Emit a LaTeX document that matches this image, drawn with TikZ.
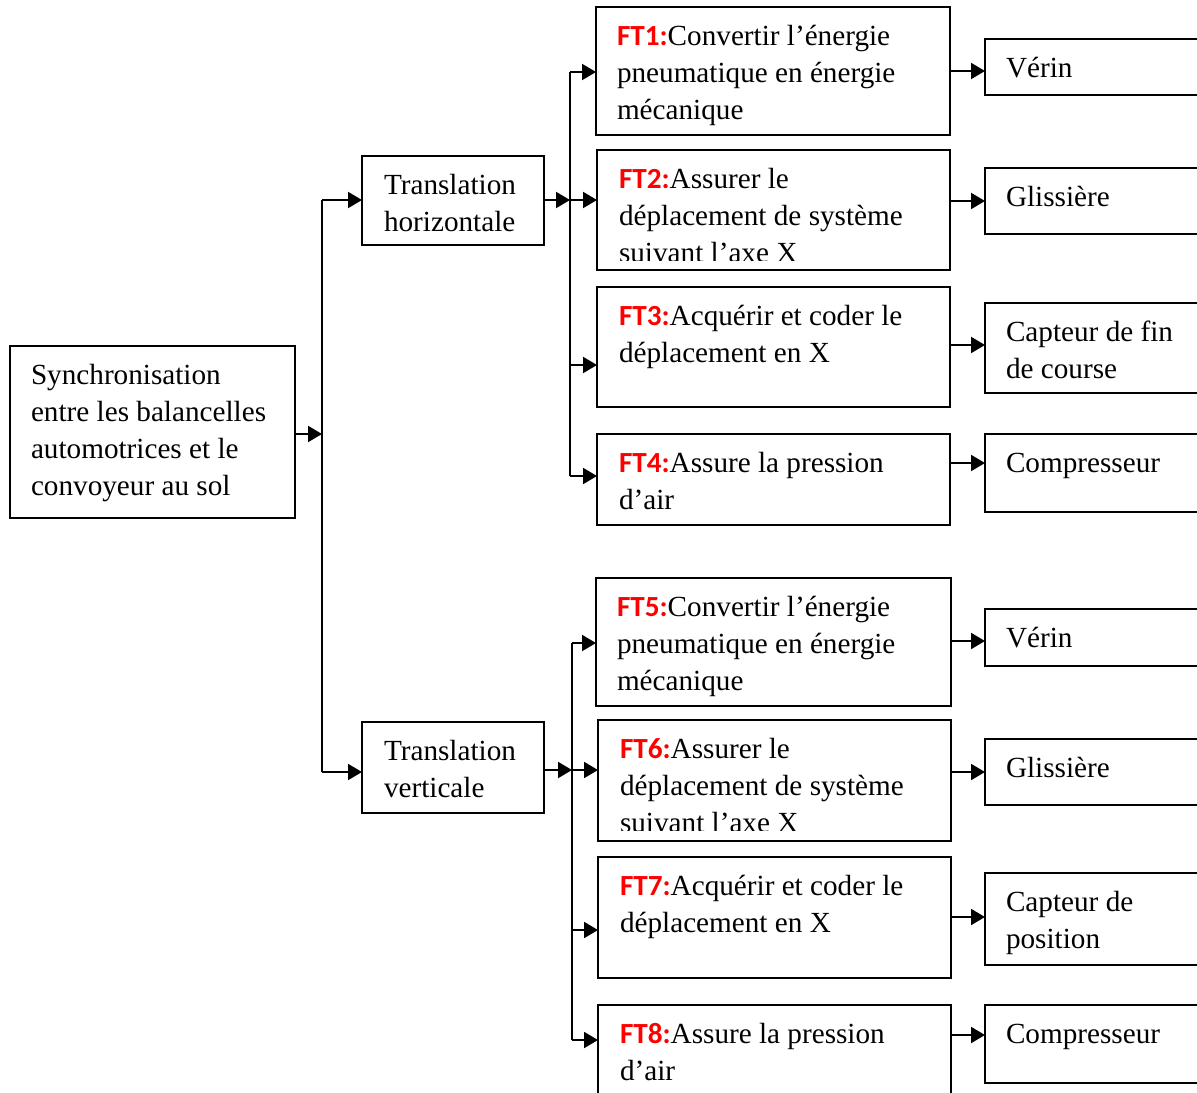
\documentclass[tikz,border=0pt]{standalone}
\usepackage{fontspec}
\setmainfont{Liberation Serif}
\newfontfamily\ftfont{Carlito}
\usetikzlibrary{arrows.meta}
\definecolor{ftred}{RGB}{255,0,0}
% red bold function tag, e.g. "FT1:"
\newcommand\FT[1]{{\ftfont\bfseries\color{ftred}#1:}}
\begin{document}
\begin{tikzpicture}[x=0.5pt,y=-0.5pt,
  line width=1pt,
  box/.style={draw, rectangle, anchor=north west, inner sep=0pt, outer sep=0pt},
  txt/.style={anchor=north west, inner sep=0pt, align=left,
    font=\fontsize{14.6}{18.5}\selectfont},
  arr/.style={-{Triangle[length=7pt,width=8pt]}},
]
\useasboundingbox (0,0) rectangle (1197,1092);
\clip (0,0) rectangle (1197,1092);

% box: name, left, top, right, bottom
\newcommand\boxat[5]{%
  \node[box, minimum width={(#4-#2)*0.5pt}, minimum height={(#5-#3)*0.5pt}] (#1) at (#2,#3) {};}
% text placed in a box (first baseline 37.5px below the top edge)
\newcommand\textin[3]{%
  \node[txt] (#1-t) at ([shift={(#2,11.6)}]#1.north west) {\strut #3};}

% ---------- boxes ----------
\boxat{sync}{10}{346}{295}{518}
\boxat{th}{362}{156}{544}{245}
\boxat{tv}{362}{722}{544}{813}

\boxat{ft1}{596}{7}{950}{135}
\boxat{ft2}{597}{150}{950}{270}
\boxat{ft3}{597}{287}{950}{407}
\boxat{ft4}{597}{434}{950}{525}
\boxat{ft5}{596}{578}{951}{706}
\boxat{ft6}{598}{720}{951}{841}
\boxat{ft7}{598}{857}{951}{978}
\boxat{ft8}{598}{1005}{951}{1110}

\boxat{r1}{985}{39}{1215}{95}
\boxat{r2}{985}{168}{1215}{234}
\boxat{r3}{985}{303}{1215}{393}
\boxat{r4}{985}{434}{1215}{512}
\boxat{r5}{985}{609}{1215}{666}
\boxat{r6}{985}{739}{1215}{805}
\boxat{r7}{985}{873}{1215}{965}
\boxat{r8}{985}{1005}{1215}{1083}

% ---------- texts ----------
\textin{sync}{20}{Synchronisation\\entre les balancelles\\automotrices et le\\convoyeur au sol}
\textin{th}{21}{Translation\\horizontale}
\textin{tv}{21}{Translation\\verticale}

\textin{ft1}{20}{\FT{FT1}Convertir l’énergie\\pneumatique en énergie\\mécanique}
\begin{scope}
  \clip (597,150) rectangle (950,260);
  \textin{ft2}{21}{\FT{FT2}Assurer le\\déplacement de système\\suivant l’axe X}
\end{scope}
\textin{ft3}{21}{\FT{FT3}Acquérir et coder le\\déplacement en X}
\textin{ft4}{21}{\FT{FT4}Assure la pression\\d’air}
\textin{ft5}{20}{\FT{FT5}Convertir l’énergie\\pneumatique en énergie\\mécanique}
\begin{scope}
  \clip (598,720) rectangle (951,830);
  \textin{ft6}{21}{\FT{FT6}Assurer le\\déplacement de système\\suivant l’axe X}
\end{scope}
\textin{ft7}{21}{\FT{FT7}Acquérir et coder le\\déplacement en X}
\textin{ft8}{21}{\FT{FT8}Assure la pression\\d’air}

\textin{r1}{20}{Vérin}
\textin{r2}{20}{Glissière}
\textin{r3}{20}{Capteur de fin\\de course}
\textin{r4}{20}{Compresseur}
\textin{r5}{20}{Vérin}
\textin{r6}{20}{Glissière}
\textin{r7}{20}{Capteur de\\position}
\textin{r8}{20}{Compresseur}

% ---------- junction points ----------
\coordinate (sj) at (322,434);
\coordinate (t1) at (322,200);
\coordinate (t2) at (322,772);

\coordinate (u1) at (570,72);
\coordinate (u2) at (570,200);
\coordinate (u3) at (570,365);
\coordinate (u4) at (570,476);

\coordinate (l1) at (572,643);
\coordinate (l2) at (572,770);
\coordinate (l3) at (572,930);
\coordinate (l4) at (572,1040);

\coordinate (o1) at (0,71);
\coordinate (o2) at (0,201);
\coordinate (o3) at (0,345);
\coordinate (o4) at (0,463);
\coordinate (o5) at (0,641);
\coordinate (o6) at (0,772);
\coordinate (o7) at (0,917);
\coordinate (o8) at (0,1035);

% ---------- connectors ----------
\draw[arr] (sync.east |- sj) -- (sj);
\draw (t1) -- (t2);
\draw[arr] (t1) -- (t1 -| th.west);
\draw[arr] (t2) -- (t2 -| tv.west);

\draw[arr] (th.east |- u2) -- (u2);
\draw (u1) -- (u4);
\draw[arr] (u1) -- (u1 -| ft1.west);
\draw[arr] (u2) -- (u2 -| ft2.west);
\draw[arr] (u3) -- (u3 -| ft3.west);
\draw[arr] (u4) -- (u4 -| ft4.west);

\draw[arr] (tv.east |- l2) -- (l2);
\draw (l1) -- (l4);
\draw[arr] (l1) -- (l1 -| ft5.west);
\draw[arr] (l2) -- (l2 -| ft6.west);
\draw[arr] (l3) -- (l3 -| ft7.west);
\draw[arr] (l4) -- (l4 -| ft8.west);

\draw[arr] (ft1.east |- o1) -- (r1.west |- o1);
\draw[arr] (ft2.east |- o2) -- (r2.west |- o2);
\draw[arr] (ft3.east |- o3) -- (r3.west |- o3);
\draw[arr] (ft4.east |- o4) -- (r4.west |- o4);
\draw[arr] (ft5.east |- o5) -- (r5.west |- o5);
\draw[arr] (ft6.east |- o6) -- (r6.west |- o6);
\draw[arr] (ft7.east |- o7) -- (r7.west |- o7);
\draw[arr] (ft8.east |- o8) -- (r8.west |- o8);
\end{tikzpicture}
\end{document}
